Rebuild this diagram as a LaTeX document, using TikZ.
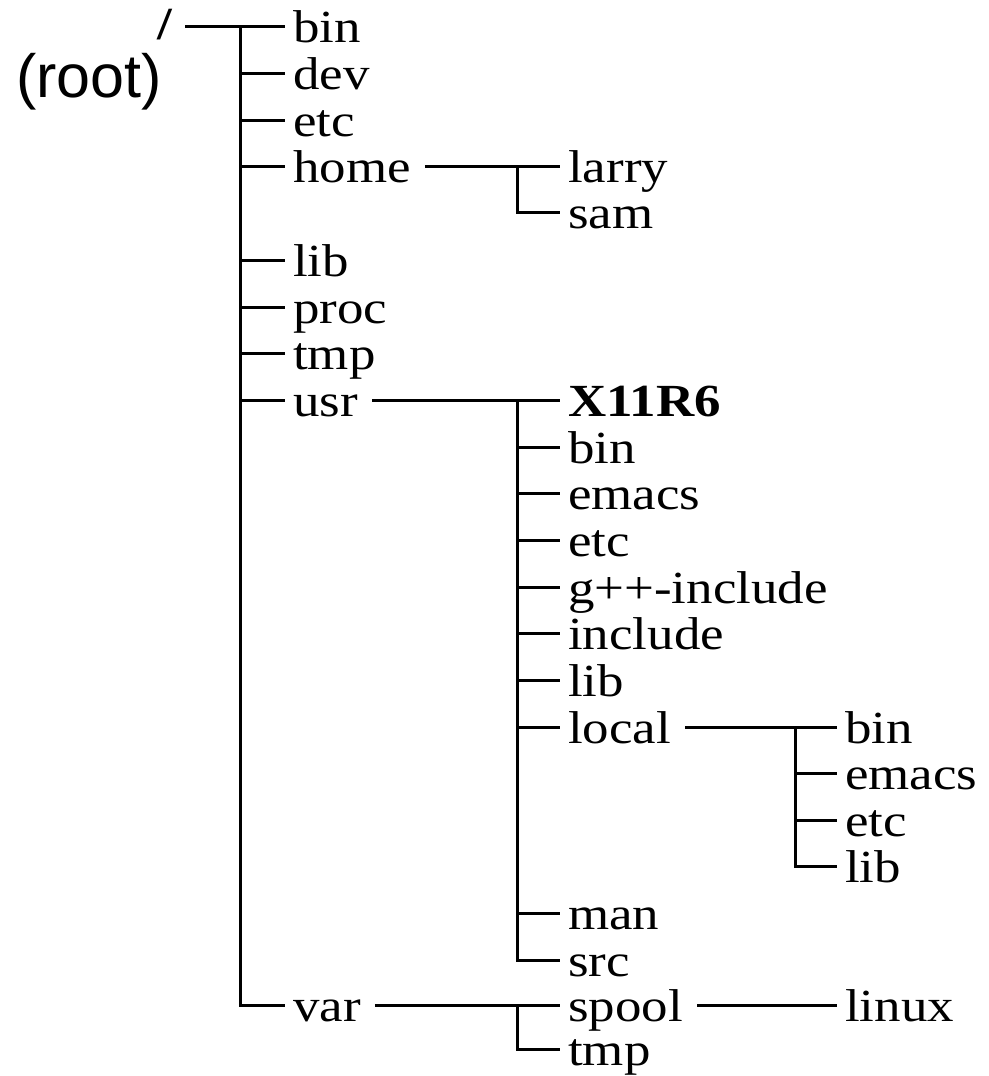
\documentclass[tikz,border=0pt]{standalone}
\usepackage{fontspec}
\newfontfamily\treefont{Liberation Serif}[FakeStretch=1.15]
\newfontfamily\rootfont{Liberation Sans}
\begin{document}
\begin{tikzpicture}[x=1pt,y=-1pt,
  dir/.style={anchor=west, inner xsep=8pt, inner ysep=0pt, text height=33pt, text depth=0pt,
    font=\treefont\fontsize{46}{50}\selectfont},
  conn/.style={line width=3pt, line join=miter}]
\useasboundingbox (0,0) rectangle (988,1076);
% column coordinates
\coordinate (t1) at (240,0);
\coordinate (t2) at (517,0);
\coordinate (t3) at (795,0);
% root
\node[anchor=base west, inner sep=0pt, font=\treefont\bfseries\fontsize{46}{50}\selectfont] (slash) at (157,39) {/};
\node[anchor=base west, inner sep=0pt, font=\rootfont\fontsize{61}{66}\selectfont] (root) at (16,97) {(root)};
% level 1
\node[dir] (bin) at (285,26) {bin};
\node[dir] (dev) at (285,73) {dev};
\node[dir] (etc) at (285,120) {etc};
\node[dir] (home) at (285,166) {home};
\node[dir] (lib) at (285,260) {lib};
\node[dir] (proc) at (285,307) {proc};
\node[dir] (tmp) at (285,353) {tmp};
\node[dir] (usr) at (285,400) {usr};
\node[dir] (var) at (285,1005) {var};
% home children
\node[dir] (larry) at (560,166) {larry};
\node[dir] (sam) at (560,212) {sam};
% usr children
\node[dir] (x11) at (560,400) {\bfseries X11R6};
\node[dir] (ubin) at (560,447) {bin};
\node[dir] (uemacs) at (560,493) {emacs};
\node[dir] (uetc) at (560,540) {etc};
\node[dir] (ugpp) at (560,587) {g++-include};
\node[dir] (uinc) at (560,633) {include};
\node[dir] (ulib) at (560,680) {lib};
\node[dir] (local) at (560,727) {local};
\node[dir] (man) at (560,913) {man};
\node[dir] (src) at (560,960) {src};
% local children
\node[dir] (lbin) at (837,727) {bin};
\node[dir] (lemacs) at (837,773) {emacs};
\node[dir] (letc) at (837,820) {etc};
\node[dir] (llib) at (837,866) {lib};
% var children
\node[dir] (spool) at (560,1005) {spool};
\node[dir] (vtmp) at (560,1049) {tmp};
\node[dir] (linux) at (837,1005) {linux};
% connectors: root
\draw[conn, shorten <=13pt] (slash.east |- bin.west) -- (bin.west);
\draw[conn] (t1 |- bin.west) |- (var.west);
\foreach \n in {dev,etc,home,lib,proc,tmp,usr}
  \draw[conn] (t1 |- \n.west) -- (\n.west);
% home
\draw[conn, shorten <=6pt] (home.east) -- (larry.west);
\draw[conn] (t2 |- larry.west) |- (sam.west);
% usr
\draw[conn, shorten <=6pt] (usr.east) -- (x11.west);
\draw[conn] (t2 |- x11.west) |- (src.west);
\foreach \n in {ubin,uemacs,uetc,ugpp,uinc,ulib,local,man}
  \draw[conn] (t2 |- \n.west) -- (\n.west);
% local
\draw[conn, shorten <=6pt] (local.east) -- (lbin.west);
\draw[conn] (t3 |- lbin.west) |- (llib.west);
\foreach \n in {lemacs,letc}
  \draw[conn] (t3 |- \n.west) -- (\n.west);
% var
\draw[conn, shorten <=6pt] (var.east) -- (spool.west);
\draw[conn] (t2 |- spool.west) |- (vtmp.west);
% spool
\draw[conn, shorten <=6pt] (spool.east) -- (linux.west);
\end{tikzpicture}
\end{document}
